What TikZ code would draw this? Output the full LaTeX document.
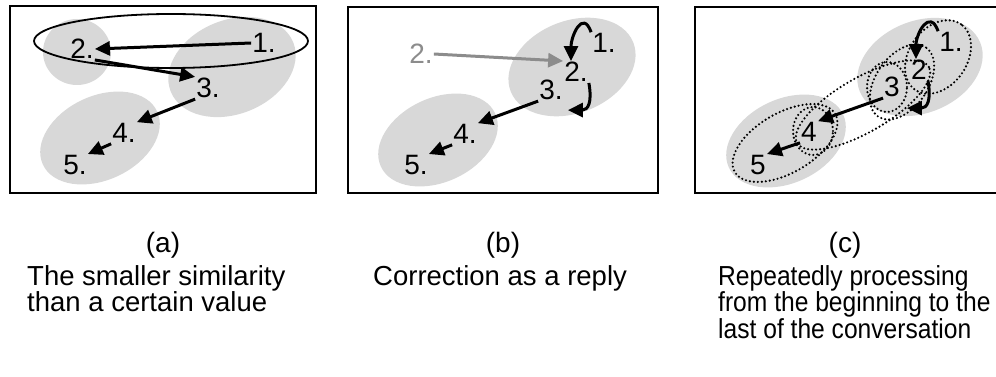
\documentclass[tikz,border=0pt]{standalone}
\usepackage{fontspec}
\setmainfont{Liberation Sans}
\newfontfamily\narrowsans[FakeStretch=0.895]{Liberation Sans}
\usetikzlibrary{arrows.meta,positioning}
\definecolor{blobgray}{RGB}{216,216,216}
\definecolor{ghostgray}{RGB}{140,140,140}
\tikzset{
    % panel frame
    panel/.style={draw=black, line width=1.6pt},
    % shaded cluster behind the utterances
    blob/.style={fill=blobgray},
    % utterance numbers
    utt/.style={inner sep=1pt, font=\fontsize{28}{30}\selectfont},
    ghostutt/.style={utt, text=ghostgray},
    % arrows between utterances
    link/.style={-{Triangle[length=15pt,width=14pt]}, line width=3pt},
    ghostlink/.style={link, draw=ghostgray, fill=ghostgray},
    % grouping outlines
    group/.style={draw, line width=1.8pt},
    dotgroup/.style={draw, line width=2.4pt, dash pattern=on 0pt off 4pt, line cap=round},
    % captions
    tag/.style={font=\fontsize{28}{30}\selectfont, inner sep=0pt},
    capt/.style={font=\fontsize{27.5}{26.5}\selectfont, align=left, inner sep=0pt},
    narrowcapt/.style={capt, font=\narrowsans\fontsize{27.5}{26.5}\selectfont},
}

\begin{document}
\begin{tikzpicture}[x=1pt,y=-1pt]
  \useasboundingbox (0,0) rectangle (996,377);

  % (a) similarity below threshold
  \draw[panel] (10,6) rectangle (316,193);
  \fill[blob] (77,52) ellipse [x radius=34pt, y radius=33pt];
  \fill[blob, rotate around={22:(232,67)}] (232,67) ellipse [x radius=66pt, y radius=47pt];
  \fill[blob, rotate around={25:(100,138)}] (100,138) ellipse [x radius=63pt, y radius=42pt];
  \draw[group] (171,41) ellipse [x radius=137pt, y radius=27pt];
  \node[utt] (a1) at (264,43)  {1.};
  \node[utt] (a2) at (82,49)   {2.};
  \node[utt] (a3) at (208,88)  {3.};
  \node[utt] (a4) at (124,133) {4.};
  \node[utt] (a5) at (75,165)  {5.};
  \draw[link] (a1.west) -- (a2.east);
  \draw[link] (a2.south east) -- (a3.north west);
  \draw[link] (a3.south west) -- (a4.north east);
  \draw[link] (a4.south west) -- (a5.north east);

  % (b) correction as a reply
  \draw[panel] (348,7) rectangle (658,193);
  \fill[blob, rotate around={22:(572,67)}] (572,67) ellipse [x radius=66pt, y radius=46pt];
  \fill[blob, rotate around={25:(438,140)}] (438,140) ellipse [x radius=63pt, y radius=42pt];
  \node[ghostutt] (g2) at (421,54) {2.};
  \node[utt] (b1) at (604,43)  {1.};
  \node[utt] (b2) at (576,72)  {2.};
  \node[utt] (b3) at (551,90)  {3.};
  \node[utt] (b4) at (465,134) {4.};
  \node[utt] (b5) at (416,165) {5.};
  \draw[ghostlink] (g2.east) -- (b2.north west);
  \draw[link] (b1.north west) to[out=110,in=90,looseness=1.8] ([xshift=-5pt]b2.north);
  \draw[link] (b2.south east) to[out=-80,in=0,looseness=1.5] ([xshift=4pt,yshift=-9pt]b3.south east);
  \draw[link] (b3.south west) -- (b4.north east);
  \draw[link] (b4.south west) -- (b5.north east);

  % (c) repeated processing
  \draw[panel] (695,7) rectangle (1001,193);
  \fill[blob, rotate around={22:(920,67)}] (920,67) ellipse [x radius=65pt, y radius=46pt];
  \fill[blob, rotate around={25:(786,141)}] (786,141) ellipse [x radius=63pt, y radius=42pt];
  \draw[dotgroup, rotate around={55:(938,57)}] (938,57) ellipse [x radius=40pt, y radius=29pt];
  \draw[dotgroup, rotate around={55:(902,82)}] (902,82) ellipse [x radius=42pt, y radius=26pt];
  \draw[dotgroup] (887,87) ellipse [x radius=20pt, y radius=25pt];
  \draw[dotgroup, rotate around={30:(863,105)}] (863,105) ellipse [x radius=76pt, y radius=27pt];
  \draw[dotgroup] (813,131) ellipse [x radius=20pt, y radius=24pt];
  \draw[dotgroup, rotate around={30:(785,143)}] (785,143) ellipse [x radius=58pt, y radius=30pt];
  \node[utt] (c1) at (951,42)  {1.};
  \node[utt] (c2) at (919,70)  {2};
  \node[utt] (c3) at (892,87)  {3};
  \node[utt] (c4) at (809,132) {4};
  \node[utt] (c5) at (758,165) {5};
  \draw[link] (c1.north west) to[out=110,in=90,looseness=1.8] ([xshift=-3pt]c2.north);
  \draw[link] (c2.south east) to[out=-80,in=0,looseness=1.5] ([xshift=6pt,yshift=-10pt]c3.south east);
  \draw[link] (c3.south west) -- (c4.north east);
  \draw[link] (c4.south west) -- (c5.north east);

  % captions
  \node[tag] (taga) at (163,245) {(a)};
  \node[tag] (tagb) at (503,245) {(b)};
  \node[tag] (tagc) at (845,245) {(c)};
  \node[capt, anchor=north west] (capa) at (27,265)
     {The smaller similarity\\than a certain value};
  \node[capt, anchor=north west] (capb) at (373,265) {Correction as a reply};
  \node[narrowcapt, anchor=north west] (capc) at (718,265)
     {Repeatedly processing\\from the beginning to the\\last of the conversation};
\end{tikzpicture}
\end{document}
